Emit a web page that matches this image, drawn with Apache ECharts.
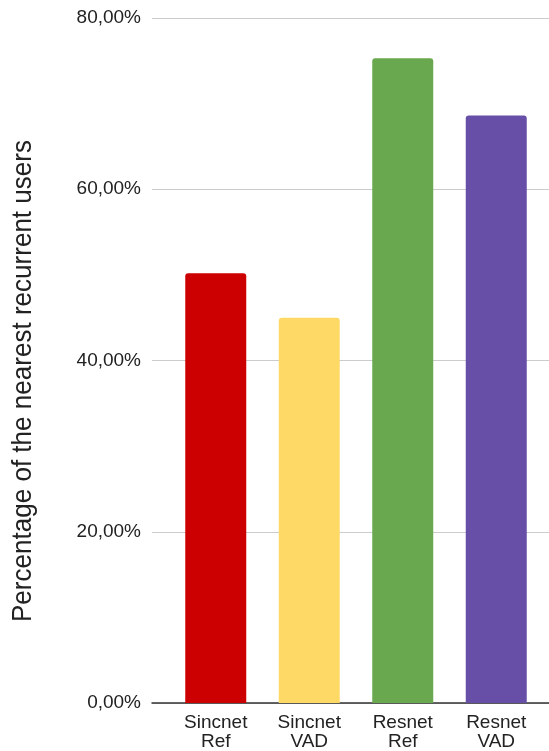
<!DOCTYPE html>
<html>
<head>
<meta charset="utf-8">
<script src="https://cdn.jsdelivr.net/npm/echarts@6/dist/echarts.min.js"></script>
<style>
  html, body { margin: 0; padding: 0; background: #fff; }
  #chart { width: 549px; height: 751px; }
</style>
</head>
<body>
<div id="chart"></div>
<script>
// Share of nearest recurrent users per model / input variant
const categories = ['Sincnet\nRef', 'Sincnet\nVAD', 'Resnet\nRef', 'Resnet\nVAD'];
const values = [50.2, 45.0, 75.3, 68.6];
const barColors = ['#cc0000', '#ffd966', '#6aa84f', '#674ea7'];
const yTicks = [0, 20, 40, 60, 80];
const yTitle = 'Percentage of the nearest recurrent users';

const yMin = yTicks[0];
const yMax = yTicks[yTicks.length - 1];
const yStep = yTicks[1] - yTicks[0];

const chart = echarts.init(document.getElementById('chart'), null, { renderer: 'canvas' });

const labelFont = '"Liberation Sans", Arial, sans-serif';

chart.setOption({
  animation: false,
  backgroundColor: '#ffffff',
  grid: [
    // full-width frame carrying the value scale and gridlines
    { left: 152, right: 0, top: 18, bottom: 48 },
    // inner band holding the bars
    { left: 169, right: 6, top: 18, bottom: 48 }
  ],
  xAxis: [
    {
      gridIndex: 0, type: 'value', min: 0, max: 1,
      axisLine: { show: true, onZero: false, lineStyle: { color: '#333333', width: 1.5 } },
      axisTick: { show: false }, axisLabel: { show: false }, splitLine: { show: false }
    },
    {
      gridIndex: 1, type: 'category', data: categories,
      axisLine: { show: false }, axisTick: { show: false },
      axisLabel: {
        margin: 10, color: '#222222', fontSize: 19, lineHeight: 19,
        fontFamily: labelFont, interval: 0
      }
    }
  ],
  yAxis: [
    {
      gridIndex: 0, type: 'value', min: yMin, max: yMax, interval: yStep,
      axisLine: { show: false }, axisTick: { show: false },
      axisLabel: {
        margin: 11, color: '#222222', fontSize: 19, fontFamily: labelFont,
        formatter: v => v.toFixed(2).replace('.', ',') + '%'
      },
      splitLine: { show: true, lineStyle: { color: '#cccccc', width: 1 } }
    },
    {
      gridIndex: 1, type: 'value', min: yMin, max: yMax, interval: yStep,
      show: false
    }
  ],
  series: [{
    type: 'bar',
    xAxisIndex: 1, yAxisIndex: 1,
    barWidth: 61,
    data: values.map((v, i) => ({ value: v, itemStyle: { color: barColors[i] } })),
    itemStyle: { borderRadius: [3, 3, 0, 0] }
  }],
  graphic: [{
    // vertical axis title, slightly condensed along its length
    type: 'text',
    x: 23,
    y: 381,
    rotation: Math.PI / 2,
    scaleX: 0.93,
    style: {
      x: 0, y: 0,
      text: yTitle,
      font: '28px "Liberation Sans", Arial, sans-serif',
      fill: '#222222',
      align: 'center',
      verticalAlign: 'middle'
    }
  }]
});
</script>
</body>
</html>
